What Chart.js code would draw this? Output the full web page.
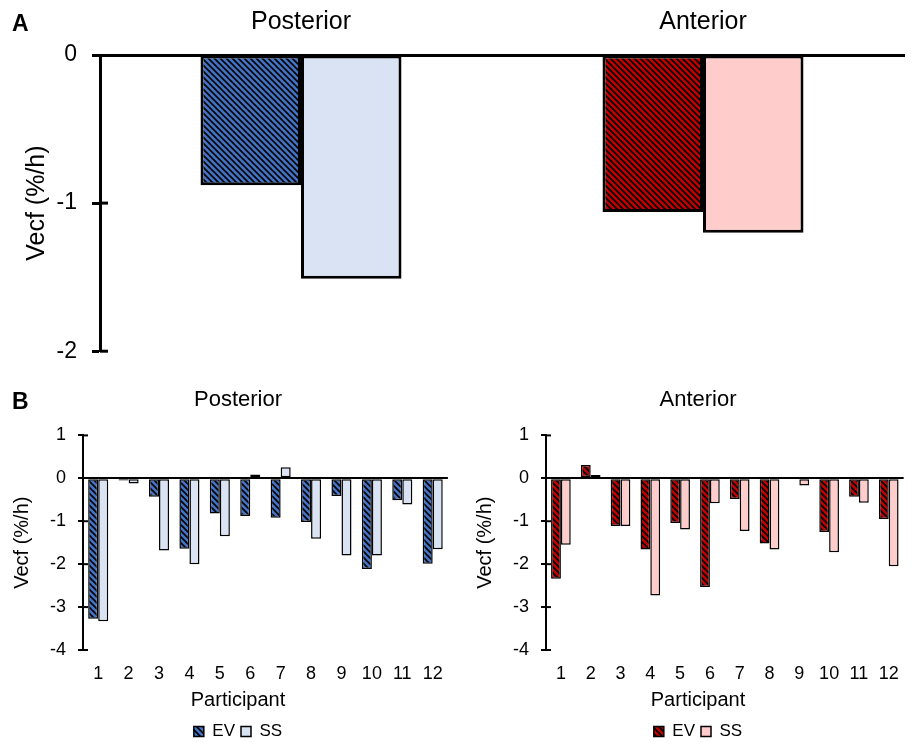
<!DOCTYPE html>
<html lang="en">
<head>
<meta charset="UTF-8">
<title>Vecf by region</title>
<script src="https://cdn.jsdelivr.net/npm/chart.js"></script>
<style>
  body { margin: 0; background: #fff; font-family: "Liberation Sans", Arial, sans-serif; }
  #page { position: relative; width: 912px; height: 742px; overflow: hidden; }
  .box { position: absolute; }
  .tag { position: absolute; font-weight: bold; font-size: 23px; line-height: 1; }
</style>
</head>
<body>
<div id="page">
  <div class="box" style="left:0;top:0;width:912px;height:380px"><canvas id="chartA" width="912" height="380"></canvas></div>
  <div class="box" style="left:0;top:380px;width:456px;height:370px"><canvas id="chartPost" width="456" height="370"></canvas></div>
  <div class="box" style="left:456px;top:380px;width:456px;height:370px"><canvas id="chartAnt" width="456" height="370"></canvas></div>
  <div class="tag" style="left:12px;top:12px">A</div>
  <div class="tag" style="left:12px;top:390px">B</div>
</div>
<script>
// mean change per region (panel A)
const regions = ['Posterior', 'Anterior'];
const meanEV = [-0.88, -1.06];
const meanSS = [-1.51, -1.20];
const yTicksA = [0, -1, -2];

// per participant (panel B)
const participants = ['1', '2', '3', '4', '5', '6', '7', '8', '9', '10', '11', '12'];
const posteriorEV = [-3.27, -0.05, -0.43, -1.64, -0.82, -0.88, -0.92, -1.02, -0.41, -2.11, -0.51, -1.99];
const posteriorSS = [-3.33, -0.12, -1.68, -2.00, -1.35, 0.09, 0.26, -1.41, -1.80, -1.80, -0.61, -1.65];
const anteriorEV = [-2.34, 0.31, -1.11, -1.66, -1.04, -2.53, -0.48, -1.52, 0.02, -1.25, -0.43, -0.95];
const anteriorSS = [-1.55, 0.08, -1.11, -2.73, -1.19, -0.58, -1.23, -1.66, -0.17, -1.72, -0.57, -2.05];
const yTicksB = [1, 0, -1, -2, -3, -4];

const BLUE = '#4472C4', LIGHT_BLUE = '#DAE3F3';
const RED = '#C00000', PINK = '#FFCCCC';

Chart.defaults.font.family = '"Liberation Sans", Arial, sans-serif';
Chart.defaults.color = '#000';

// diagonal black stripes over a solid fill
function hatch(bg) {
    let c = document.createElement('canvas');
    c.width = 6; c.height = 6;
    let g = c.getContext('2d');
    g.fillStyle = bg;
    g.fillRect(0, 0, 6, 6);
    g.strokeStyle = '#000';
    g.lineWidth = 1.6;
    g.beginPath();
    g.moveTo(-1, -1); g.lineTo(7, 7);
    g.moveTo(-1, 5); g.lineTo(1, 7);
    g.moveTo(5, -1); g.lineTo(7, 1);
    g.stroke();
    return g.createPattern(c, 'repeat');
}

// short tick marks on the inner side of the y axis, so they cross it
const innerTicks = {
    id: 'innerTicks',
    afterDatasetsDraw(chart, args, opts) {
        let y = chart.scales.y, ctx = chart.ctx;
        ctx.save();
        ctx.strokeStyle = '#000';
        ctx.lineWidth = opts.width;
        y.ticks.forEach(t => {
            if (t.value === 0) return;
            let py = y.getPixelForValue(t.value);
            ctx.beginPath();
            ctx.moveTo(y.right, py);
            ctx.lineTo(y.right + opts.len, py);
            ctx.stroke();
        });
        ctx.restore();
    }
};

new Chart(document.getElementById('chartA'), {
    type: 'bar',
    data: {
        labels: regions,
        datasets: [
            { label: 'EV', data: meanEV, backgroundColor: [hatch(BLUE), hatch(RED)] },
            { label: 'SS', data: meanSS, backgroundColor: [LIGHT_BLUE, PINK] }
        ]
    },
    options: {
        responsive: false,
        animation: false,
        layout: { padding: { left: 0, right: 8, top: 0, bottom: 14 } },
        datasets: {
            bar: { categoryPercentage: 0.5, barPercentage: 1, borderColor: '#000', borderWidth: 3, borderSkipped: false }
        },
        plugins: {
            legend: { display: false },
            tooltip: { enabled: false },
            innerTicks: { len: 8, width: 3 }
        },
        scales: {
            x: {
                position: 'top',
                grid: { display: false, drawTicks: false },
                border: { display: true, color: '#000', width: 3 },
                ticks: { font: { size: 25 }, padding: 18 },
                afterFit: s => { s.height = 55; }
            },
            y: {
                min: Math.min(...yTicksA),
                max: Math.max(...yTicksA),
                ticks: { stepSize: 1, font: { size: 23 }, padding: 15 },
                grid: { drawOnChartArea: false, tickLength: 8, tickColor: '#000', tickWidth: 3 },
                border: { display: true, color: '#000', width: 3 },
                title: { display: true, text: 'Vecf (%/h)', font: { size: 25 }, padding: { top: 22 } },
                afterFit: s => { s.width = 100; }
            }
        }
    },
    plugins: [innerTicks]
});

function participantChart(id, title, ev, ss, evColor, ssColor, padLeft, padRight) {
    return new Chart(document.getElementById(id), {
        type: 'bar',
        data: {
            labels: participants,
            datasets: [
                { label: 'EV', data: ev, backgroundColor: hatch(evColor) },
                { label: 'SS', data: ss, backgroundColor: ssColor }
            ]
        },
        options: {
            responsive: false,
            animation: false,
            layout: { padding: { left: padLeft, right: padRight, top: 0, bottom: 0 } },
            datasets: {
                bar: { categoryPercentage: 0.66, barPercentage: 1, borderColor: '#000', borderWidth: 1.5, borderSkipped: false }
            },
            plugins: {
                title: { display: true, text: title, font: { size: 22, weight: 'normal' }, padding: { top: 7, bottom: 22 } },
                subtitle: {
                    display: true, position: 'bottom', weight: 500, text: 'Participant',
                    color: '#000', font: { size: 20 }, padding: { top: 6, bottom: 5 }
                },
                legend: {
                    position: 'bottom',
                    labels: { boxWidth: 10, boxHeight: 10, padding: 6, font: { size: 17 } }
                },
                tooltip: { enabled: false },
                innerTicks: { len: 5, width: 2 }
            },
            scales: {
                x: {
                    grid: { display: false, drawTicks: false },
                    border: { display: false },
                    ticks: { font: { size: 18 }, padding: 13, maxRotation: 0, autoSkip: false },
                    afterFit: s => { s.height = 32; }
                },
                y: {
                    min: Math.min(...yTicksB),
                    max: Math.max(...yTicksB),
                    ticks: { stepSize: 1, font: { size: 18 }, padding: 12 },
                    grid: {
                        color: c => c.tick && c.tick.value === 0 ? '#000' : 'rgba(0,0,0,0)',
                        lineWidth: 2,
                        tickLength: 5, tickColor: '#000', tickWidth: 2
                    },
                    border: { display: true, color: '#000', width: 2 },
                    title: { display: true, text: 'Vecf (%/h)', font: { size: 20 }, padding: { top: -17 } },
                    afterFit: s => { s.width = 56; }
                }
            }
        },
        plugins: [innerTicks]
    });
}

participantChart('chartPost', 'Posterior', posteriorEV, posteriorSS, BLUE, LIGHT_BLUE, 27, 7);
participantChart('chartAnt', 'Anterior', anteriorEV, anteriorSS, RED, PINK, 34, 6);
</script>
</body>
</html>
